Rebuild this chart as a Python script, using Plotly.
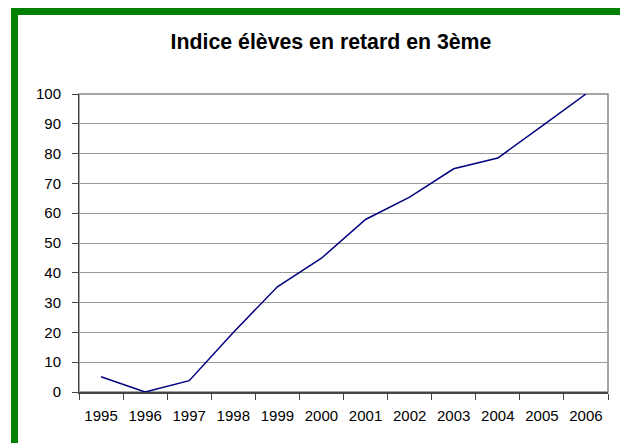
import plotly.graph_objects as go

# données
annees = ["1995", "1996", "1997", "1998", "1999", "2000",
          "2001", "2002", "2003", "2004", "2005", "2006"]
indice = [5.1, 0, 3.8, 20, 35.3, 44.9, 57.9, 65.4, 74.9, 78.5, 89.2, 100]
y_ticks = [0, 10, 20, 30, 40, 50, 60, 70, 80, 90, 100]

W, H = 620, 443
L, R, T, B = 79, 12, 94, 51
pw, ph = W - L - R, H - T - B


def px_x(p):
    return (p - L) / pw


def px_y(p):
    return (H - B - p) / ph


fig = go.Figure()
fig.add_trace(go.Scatter(
    x=annees, y=indice, mode="lines",
    line=dict(color="#000080", width=1.5),
    showlegend=False, hoverinfo="x+y"
))

green = "#008000"
fig.update_layout(
    width=W, height=H,
    margin=dict(l=L, r=R, t=T, b=B),
    paper_bgcolor="white", plot_bgcolor="white",
    font=dict(family="Liberation Sans, Arial, sans-serif", color="black", size=15),
    title=dict(
        text="<b>Indice élèves en retard en 3ème</b>",
        font=dict(size=21.3, color="black"),
        x=331 / W, xanchor="center", xref="container",
        y=1 - 42 / H, yanchor="middle"
    ),
    xaxis=dict(
        type="category", range=[-0.5, 11.5],
        tickson="boundaries", ticks="outside", ticklen=6,
        tickcolor="#444", showline=True, linecolor="#444", linewidth=2,
        showgrid=False, tickfont=dict(size=15), ticklabelstandoff=9,
        fixedrange=True
    ),
    yaxis=dict(
        range=[0, 100], tickvals=y_ticks,
        ticks="outside", ticklen=6, tickcolor="#444",
        showline=True, linecolor="#444", linewidth=1,
        showgrid=True, gridcolor="#999", gridwidth=1,
        zeroline=False, tickfont=dict(size=15),
        ticklabelstandoff=8, fixedrange=True
    ),
    shapes=[
        # cadre du graphique
        dict(type="rect", xref="paper", yref="paper", x0=0, y0=0, x1=1, y1=1,
             line=dict(color="#888", width=1.5), layer="below"),
        # bordure verte
        dict(type="rect", xref="paper", yref="paper",
             x0=px_x(11), x1=px_x(620), y0=px_y(15), y1=px_y(8),
             fillcolor=green, line=dict(width=0)),
        dict(type="rect", xref="paper", yref="paper",
             x0=px_x(11), x1=px_x(18), y0=px_y(443), y1=px_y(8),
             fillcolor=green, line=dict(width=0)),
    ],
)

fig.write_html("out.html", config={"displayModeBar": False},
               post_script="document.body.style.margin='0';")
